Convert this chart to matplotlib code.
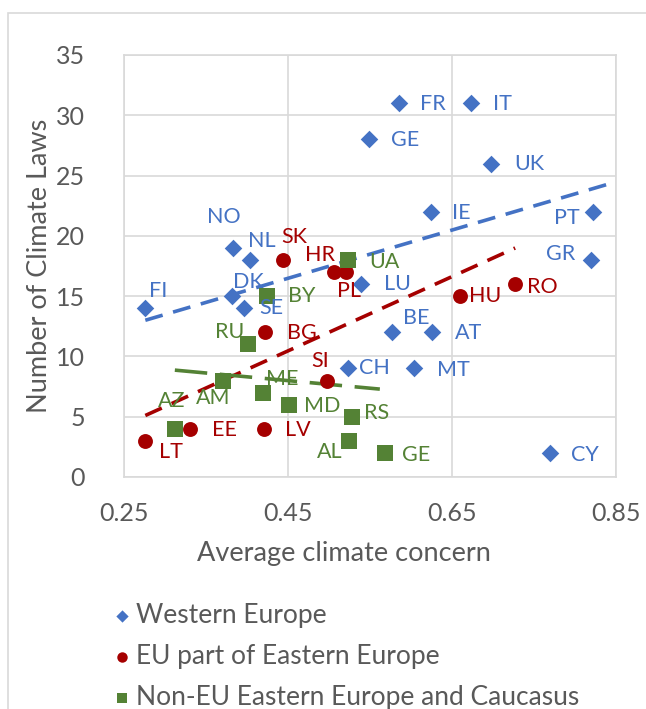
import numpy as np
import matplotlib.pyplot as plt
from matplotlib.patches import Rectangle

plt.rcParams['font.family'] = ['Lato', 'DejaVu Sans']

# Western Europe
we_names = ['FR', 'IT', 'GE', 'UK', 'IE', 'PT', 'GR', 'NO', 'NL', 'FI', 'DK', 'SE',
            'LU', 'BE', 'AT', 'CH', 'MT', 'CY']
we_x = [0.585, 0.673, 0.549, 0.698, 0.624, 0.822, 0.819, 0.383, 0.404, 0.276, 0.382, 0.396,
        0.539, 0.577, 0.626, 0.523, 0.604, 0.769]
we_y = [31, 31, 28, 26, 22, 22, 18, 19, 18, 14, 15, 14, 16, 12, 12, 9, 9, 2]

# EU part of Eastern Europe
ee_names = ['SK', 'HR', 'PL', 'HU', 'RO', 'BG', 'SI', 'EE', 'LV', 'LT']
ee_x = [0.444, 0.506, 0.521, 0.660, 0.727, 0.422, 0.498, 0.330, 0.421, 0.276]
ee_y = [18, 17, 17, 15, 16, 12, 8, 4, 4, 3]

# Non-EU Eastern Europe and Caucasus
ne_names = ['UA', 'BY', 'RU', 'AM', 'ME', 'MD', 'RS', 'AZ', 'AL', 'GE']
ne_x = [0.523, 0.424, 0.401, 0.371, 0.420, 0.451, 0.528, 0.312, 0.524, 0.568]
ne_y = [18, 15, 11, 8, 7, 6, 5, 4, 3, 2]

# trendlines: slope, intercept, x from, x to
we_trend = [20.0, 7.48, 0.276, 0.85]
ee_trend = [30.8, -3.4, 0.276, 0.727]
ne_trend = [-6.3, 10.83, 0.312, 0.562]

# label offsets in pixels (dx, dy up)
we_off = [(34, -1), (32, -1), (36, -1), (38, 0), (31, -1), (-26, -6), (-30, 6), (-9, 31),
          (12, 19), (13, 17), (16, 14), (28, 0), (36, 0), (24, 14), (36, -1), (27, 0),
          (39, -2), (35, -2)]
ee_off = [(11, 23), (-14, 17), (3, -19), (25, 0), (27, -3), (37, -1), (-7, 20), (35, -1),
          (34, -1), (26, -11)]
ne_off = [(37, -2), (35, 0), (-18, 12), (-10, -17), (19, 14), (33, -1), (25, 4), (-3, 28),
          (-19, -11), (31, -2)]

blue = '#4472C4'
red = '#A50000'
green = '#548235'
grey = '#595959'

fig = plt.figure(figsize=(6.46, 7.09), dpi=100)
fig.add_artist(Rectangle((8 / 646, -0.1), 1.2, 1 - 13 / 709 + 0.1, transform=fig.transFigure,
                         fill=False, edgecolor='#d9d9d9', linewidth=1.2))
ax = fig.add_axes([124 / 646, 1 - 477 / 709, 492 / 646, 422 / 709])

groups = [
    (we_names, we_x, we_y, we_off, we_trend, blue, 'D', 80, 'Western Europe', (0, (5, 3))),
    (ee_names, ee_x, ee_y, ee_off, ee_trend, red, 'o', 115, 'EU part of Eastern Europe', (0, (5, 3))),
    (ne_names, ne_x, ne_y, ne_off, ne_trend, green, 's', 120, 'Non-EU Eastern Europe and Caucasus', (0, (9, 3.5))),
]
for names, xs, ys, offs, tr, col, mk, sz, lab, ds in groups:
    ax.scatter(xs, ys, marker=mk, s=sz, color=col, label=lab, zorder=3, linewidths=0)
    xl = np.array(tr[2:])
    ax.plot(xl, tr[0] * xl + tr[1], linestyle=ds, color=col, linewidth=2.6, zorder=2)
    for n, x, y, (dx, dy) in zip(names, xs, ys, offs):
        ax.annotate(n, (x, y), xytext=(dx, dy), textcoords='offset pixels',
                    ha='center', va='center', fontsize=15.5, color=col, zorder=4)

ax.set_xlim(0.25, 0.85)
ax.set_ylim(0, 35)
ax.set_xticks([0.25, 0.45, 0.65, 0.85])
ax.set_xticklabels(['0.25', '0.45', '0.65', '0.85'])
ax.set_yticks(range(0, 36, 5))
ax.grid(True, color='#d9d9d9', linewidth=1.2)
ax.set_axisbelow(True)
for s in ax.spines.values():
    s.set_color('#d9d9d9')
    s.set_linewidth(1.2)
ax.tick_params(length=0, labelsize=18, labelcolor=grey, pad=18)
ax.tick_params(axis='y', pad=28)
ax.set_xlabel('Average climate concern', fontsize=19.5, color=grey)
ax.xaxis.set_label_coords((344 - 124) / 492, -64 / 422)
ax.set_ylabel('Number of Climate Laws', fontsize=19.5, color=grey)
ax.yaxis.set_label_coords(-72 / 492, 0.5)

fig.legend(loc='upper left', bbox_to_anchor=(98 / 646, 1 - 592 / 709), frameon=False,
           fontsize=19, labelcolor=grey, handletextpad=0.05, labelspacing=0.62,
           markerscale=0.7, handlelength=1.0, borderaxespad=0)

fig.savefig('out.png', dpi=100)
